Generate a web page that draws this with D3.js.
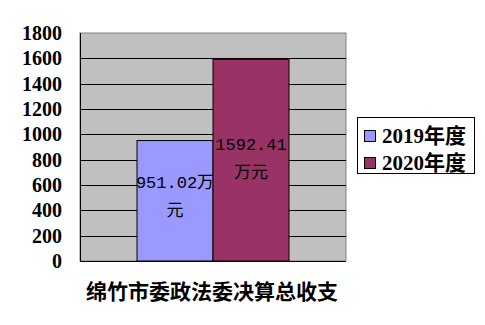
<!DOCTYPE html>
<html>
<head>
<meta charset="utf-8">
<script src="https://cdn.jsdelivr.net/npm/d3@7"></script>
<style>
  body { margin: 0; background: #fff; }
</style>
</head>
<body>
<div id="chart"></div>
<script>
// data
const seriesNames = ["2019年度", "2020年度"];
const seriesValues = [951.02, 1592.41];
const barLabels = [["951.02万", "元"], ["1592.41", "万元"]];
const seriesColors = ["#9999FF", "#993366"];
const yTicks = [0, 200, 400, 600, 800, 1000, 1200, 1400, 1600, 1800];
const categoryTitle = "绵竹市委政法委决算总收支";

const W = 485, H = 325;
const margin = {top: 33, right: 139, bottom: 64, left: 80};
const width = W - margin.left - margin.right;
const height = H - margin.top - margin.bottom;

const svg = d3.select("#chart").append("svg")
    .attr("width", W)
    .attr("height", H);

const g = svg.append("g")
    .attr("transform", "translate(" + margin.left + "," + margin.top + ")");

// scales
const y = d3.scaleLinear().domain([0, 1800]).range([height, 0]);
const groupWidth = 152;
const x = d3.scaleBand()
    .domain(seriesNames)
    .range([(width - groupWidth) / 2, (width + groupWidth) / 2])
    .padding(0);

// plot background
g.append("rect")
    .attr("width", width)
    .attr("height", height)
    .attr("fill", "#C0C0C0")
    .attr("stroke", "#808080")
    .attr("stroke-width", 1);

// gridlines
g.selectAll(".grid")
    .data(yTicks.filter(d => d > 0 && d < 1800))
    .join("line")
    .attr("x1", 0).attr("x2", width)
    .attr("y1", d => Math.round(y(d)) + 0.5)
    .attr("y2", d => Math.round(y(d)) + 0.5)
    .attr("stroke", "#000");

// bars
g.selectAll(".bar")
    .data(seriesValues)
    .join("rect")
    .attr("x", (d, i) => x(seriesNames[i]))
    .attr("y", d => y(d))
    .attr("width", x.bandwidth())
    .attr("height", d => height - y(d))
    .attr("fill", (d, i) => seriesColors[i])
    .attr("stroke", "#000")
    .attr("stroke-width", 1);

// axes
g.append("line")
    .attr("x1", 0.5).attr("x2", 0.5).attr("y1", 0).attr("y2", height)
    .attr("stroke", "#000");
g.append("line")
    .attr("x1", 0).attr("x2", width).attr("y1", height + 0.5).attr("y2", height + 0.5)
    .attr("stroke", "#000");

// y tick labels
g.selectAll(".ylab")
    .data(yTicks)
    .join("text")
    .attr("x", -18)
    .attr("y", d => y(d) + 7)
    .attr("text-anchor", "end")
    .attr("font-family", "'Liberation Serif', serif")
    .attr("font-weight", "bold")
    .attr("font-size", "20px")
    .text(d => d);

// data labels
seriesValues.forEach(function(v, i) {
    const cx = x(seriesNames[i]) + x.bandwidth() / 2;
    const cy = i === 0 ? 155 : 117;
    barLabels[i].forEach(function(line, j) {
        g.append("text")
            .attr("x", cx)
            .attr("y", cy + j * 28)
            .attr("text-anchor", "middle")
            .attr("font-family", "'Liberation Mono', 'Noto Sans CJK SC', monospace")
            .attr("font-size", "17px")
            .attr("fill", "#000")
            .text(line);
    });
});

// category title
svg.append("text")
    .attr("x", margin.left + width / 2 - 1)
    .attr("y", 299)
    .attr("text-anchor", "middle")
    .attr("font-family", "'Noto Sans CJK SC', sans-serif")
    .attr("font-weight", "bold")
    .attr("font-size", "21px")
    .text(categoryTitle);

// legend
const legend = svg.append("g").attr("transform", "translate(357,117)");
legend.append("rect")
    .attr("x", 0.5).attr("y", 0.5)
    .attr("width", 117).attr("height", 56)
    .attr("fill", "#fff")
    .attr("stroke", "#000");
seriesNames.forEach(function(name, i) {
    legend.append("rect")
        .attr("x", 7.5).attr("y", 13.5 + i * 27)
        .attr("width", 11).attr("height", 11)
        .attr("fill", seriesColors[i])
        .attr("stroke", "#000");
    legend.append("text")
        .attr("x", 25)
        .attr("y", 26 + i * 27)
        .attr("font-family", "'Liberation Serif', 'Noto Sans CJK SC', serif")
        .attr("font-weight", "bold")
        .attr("font-size", "21px")
        .text(name);
});
</script>
</body>
</html>
